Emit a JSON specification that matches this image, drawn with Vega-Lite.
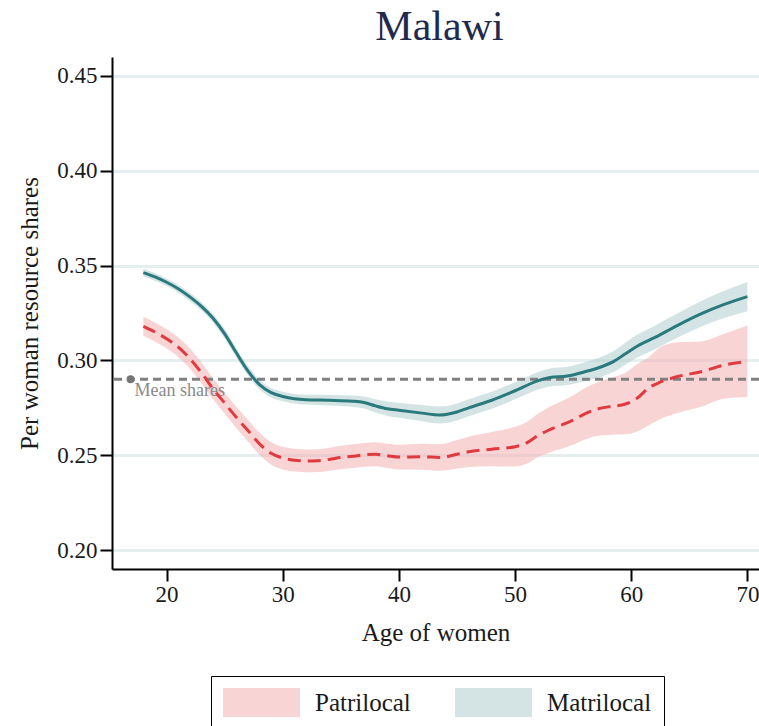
{
  "$schema": "https://vega.github.io/schema/vega-lite/v6.json",
  "autosize": {"type": "none"},
  "padding": {"left": 112, "top": 57, "right": 0, "bottom": 157},
  "width": 647,
  "height": 512,
  "background": "white",
  "title": {"text": "Malawi", "font": "Liberation Serif", "fontSize": 42, "fontWeight": "normal", "color": "#1e2b4e", "anchor": "middle", "offset": 8, "dx": 4},
  "config": {
    "view": {"stroke": null},
    "font": "Liberation Serif",
    "axis": {"labelFont": "Liberation Serif", "titleFont": "Liberation Serif", "labelColor": "#1a1a1a", "titleColor": "#1a1a1a", "titleFontWeight": "normal", "domainColor": "#000000", "tickColor": "#000000", "domainWidth": 2, "tickWidth": 2, "tickSize": 12}
  },
  "datasets": {
    "bands": [
      {"age": 18, "group": "Matrilocal", "mean": 0.3463, "lo": 0.3443, "hi": 0.3483},
      {"age": 19, "group": "Matrilocal", "mean": 0.3440, "lo": 0.3420, "hi": 0.3460},
      {"age": 20, "group": "Matrilocal", "mean": 0.3412, "lo": 0.3392, "hi": 0.3432},
      {"age": 21, "group": "Matrilocal", "mean": 0.3378, "lo": 0.3358, "hi": 0.3398},
      {"age": 22, "group": "Matrilocal", "mean": 0.3335, "lo": 0.3313, "hi": 0.3357},
      {"age": 23, "group": "Matrilocal", "mean": 0.3285, "lo": 0.3263, "hi": 0.3307},
      {"age": 24, "group": "Matrilocal", "mean": 0.3222, "lo": 0.3199, "hi": 0.3245},
      {"age": 25, "group": "Matrilocal", "mean": 0.3140, "lo": 0.3115, "hi": 0.3165},
      {"age": 26, "group": "Matrilocal", "mean": 0.3040, "lo": 0.3015, "hi": 0.3065},
      {"age": 27, "group": "Matrilocal", "mean": 0.2945, "lo": 0.2920, "hi": 0.2970},
      {"age": 28, "group": "Matrilocal", "mean": 0.2872, "lo": 0.2847, "hi": 0.2897},
      {"age": 29, "group": "Matrilocal", "mean": 0.2830, "lo": 0.2805, "hi": 0.2855},
      {"age": 30, "group": "Matrilocal", "mean": 0.2810, "lo": 0.2785, "hi": 0.2835},
      {"age": 31, "group": "Matrilocal", "mean": 0.2798, "lo": 0.2773, "hi": 0.2823},
      {"age": 32, "group": "Matrilocal", "mean": 0.2793, "lo": 0.2767, "hi": 0.2819},
      {"age": 34, "group": "Matrilocal", "mean": 0.2790, "lo": 0.2762, "hi": 0.2818},
      {"age": 36, "group": "Matrilocal", "mean": 0.2785, "lo": 0.2755, "hi": 0.2815},
      {"age": 37, "group": "Matrilocal", "mean": 0.2778, "lo": 0.2746, "hi": 0.2810},
      {"age": 38, "group": "Matrilocal", "mean": 0.2760, "lo": 0.2725, "hi": 0.2795},
      {"age": 39, "group": "Matrilocal", "mean": 0.2745, "lo": 0.2707, "hi": 0.2783},
      {"age": 40, "group": "Matrilocal", "mean": 0.2737, "lo": 0.2697, "hi": 0.2777},
      {"age": 42, "group": "Matrilocal", "mean": 0.2722, "lo": 0.2679, "hi": 0.2765},
      {"age": 43.5, "group": "Matrilocal", "mean": 0.2712, "lo": 0.2667, "hi": 0.2757},
      {"age": 45, "group": "Matrilocal", "mean": 0.2728, "lo": 0.2683, "hi": 0.2773},
      {"age": 46, "group": "Matrilocal", "mean": 0.2750, "lo": 0.2705, "hi": 0.2795},
      {"age": 48, "group": "Matrilocal", "mean": 0.2790, "lo": 0.2745, "hi": 0.2835},
      {"age": 50, "group": "Matrilocal", "mean": 0.2840, "lo": 0.2795, "hi": 0.2885},
      {"age": 52, "group": "Matrilocal", "mean": 0.2893, "lo": 0.2847, "hi": 0.2939},
      {"age": 53, "group": "Matrilocal", "mean": 0.2910, "lo": 0.2863, "hi": 0.2957},
      {"age": 54.5, "group": "Matrilocal", "mean": 0.2918, "lo": 0.2870, "hi": 0.2966},
      {"age": 56, "group": "Matrilocal", "mean": 0.2940, "lo": 0.2890, "hi": 0.2990},
      {"age": 57.5, "group": "Matrilocal", "mean": 0.2968, "lo": 0.2915, "hi": 0.3021},
      {"age": 58.5, "group": "Matrilocal", "mean": 0.2995, "lo": 0.2940, "hi": 0.3050},
      {"age": 59.5, "group": "Matrilocal", "mean": 0.3035, "lo": 0.2977, "hi": 0.3093},
      {"age": 60.5, "group": "Matrilocal", "mean": 0.3075, "lo": 0.3015, "hi": 0.3135},
      {"age": 62, "group": "Matrilocal", "mean": 0.3120, "lo": 0.3058, "hi": 0.3182},
      {"age": 64, "group": "Matrilocal", "mean": 0.3185, "lo": 0.3121, "hi": 0.3249},
      {"age": 66, "group": "Matrilocal", "mean": 0.3245, "lo": 0.3178, "hi": 0.3312},
      {"age": 68, "group": "Matrilocal", "mean": 0.3295, "lo": 0.3223, "hi": 0.3367},
      {"age": 70, "group": "Matrilocal", "mean": 0.3336, "lo": 0.3259, "hi": 0.3413},
      {"age": 18, "group": "Patrilocal", "mean": 0.3180, "lo": 0.3130, "hi": 0.3230},
      {"age": 19, "group": "Patrilocal", "mean": 0.3150, "lo": 0.3100, "hi": 0.3200},
      {"age": 20, "group": "Patrilocal", "mean": 0.3114, "lo": 0.3064, "hi": 0.3164},
      {"age": 21, "group": "Patrilocal", "mean": 0.3070, "lo": 0.3018, "hi": 0.3122},
      {"age": 22, "group": "Patrilocal", "mean": 0.3010, "lo": 0.2957, "hi": 0.3063},
      {"age": 23, "group": "Patrilocal", "mean": 0.2935, "lo": 0.2881, "hi": 0.2989},
      {"age": 24, "group": "Patrilocal", "mean": 0.2850, "lo": 0.2795, "hi": 0.2905},
      {"age": 25, "group": "Patrilocal", "mean": 0.2775, "lo": 0.2720, "hi": 0.2830},
      {"age": 26, "group": "Patrilocal", "mean": 0.2700, "lo": 0.2644, "hi": 0.2756},
      {"age": 27, "group": "Patrilocal", "mean": 0.2630, "lo": 0.2573, "hi": 0.2687},
      {"age": 28, "group": "Patrilocal", "mean": 0.2560, "lo": 0.2502, "hi": 0.2618},
      {"age": 29, "group": "Patrilocal", "mean": 0.2510, "lo": 0.2451, "hi": 0.2569},
      {"age": 30, "group": "Patrilocal", "mean": 0.2485, "lo": 0.2425, "hi": 0.2545},
      {"age": 31, "group": "Patrilocal", "mean": 0.2474, "lo": 0.2414, "hi": 0.2534},
      {"age": 32, "group": "Patrilocal", "mean": 0.2470, "lo": 0.2410, "hi": 0.2530},
      {"age": 33, "group": "Patrilocal", "mean": 0.2471, "lo": 0.2411, "hi": 0.2531},
      {"age": 34, "group": "Patrilocal", "mean": 0.2478, "lo": 0.2417, "hi": 0.2539},
      {"age": 35, "group": "Patrilocal", "mean": 0.2488, "lo": 0.2426, "hi": 0.2550},
      {"age": 36, "group": "Patrilocal", "mean": 0.2494, "lo": 0.2432, "hi": 0.2556},
      {"age": 37, "group": "Patrilocal", "mean": 0.2502, "lo": 0.2439, "hi": 0.2565},
      {"age": 38, "group": "Patrilocal", "mean": 0.2505, "lo": 0.2442, "hi": 0.2568},
      {"age": 39, "group": "Patrilocal", "mean": 0.2497, "lo": 0.2433, "hi": 0.2561},
      {"age": 40, "group": "Patrilocal", "mean": 0.2490, "lo": 0.2425, "hi": 0.2555},
      {"age": 42, "group": "Patrilocal", "mean": 0.2492, "lo": 0.2424, "hi": 0.2560},
      {"age": 43.5, "group": "Patrilocal", "mean": 0.2488, "lo": 0.2418, "hi": 0.2558},
      {"age": 45, "group": "Patrilocal", "mean": 0.2505, "lo": 0.2430, "hi": 0.2580},
      {"age": 46, "group": "Patrilocal", "mean": 0.2518, "lo": 0.2438, "hi": 0.2598},
      {"age": 48, "group": "Patrilocal", "mean": 0.2532, "lo": 0.2442, "hi": 0.2622},
      {"age": 50, "group": "Patrilocal", "mean": 0.2545, "lo": 0.2440, "hi": 0.2650},
      {"age": 51, "group": "Patrilocal", "mean": 0.2565, "lo": 0.2455, "hi": 0.2675},
      {"age": 52, "group": "Patrilocal", "mean": 0.2605, "lo": 0.2490, "hi": 0.2720},
      {"age": 53, "group": "Patrilocal", "mean": 0.2635, "lo": 0.2515, "hi": 0.2755},
      {"age": 55, "group": "Patrilocal", "mean": 0.2685, "lo": 0.2555, "hi": 0.2815},
      {"age": 56, "group": "Patrilocal", "mean": 0.2718, "lo": 0.2583, "hi": 0.2853},
      {"age": 57, "group": "Patrilocal", "mean": 0.2742, "lo": 0.2602, "hi": 0.2882},
      {"age": 58, "group": "Patrilocal", "mean": 0.2755, "lo": 0.2607, "hi": 0.2903},
      {"age": 59.5, "group": "Patrilocal", "mean": 0.2770, "lo": 0.2610, "hi": 0.2935},
      {"age": 60.5, "group": "Patrilocal", "mean": 0.2800, "lo": 0.2625, "hi": 0.2980},
      {"age": 61.5, "group": "Patrilocal", "mean": 0.2855, "lo": 0.2658, "hi": 0.3017},
      {"age": 62.5, "group": "Patrilocal", "mean": 0.2885, "lo": 0.2690, "hi": 0.3070},
      {"age": 64, "group": "Patrilocal", "mean": 0.2915, "lo": 0.2722, "hi": 0.3096},
      {"age": 66, "group": "Patrilocal", "mean": 0.2940, "lo": 0.2755, "hi": 0.3100},
      {"age": 68, "group": "Patrilocal", "mean": 0.2975, "lo": 0.2798, "hi": 0.3140},
      {"age": 70, "group": "Patrilocal", "mean": 0.2995, "lo": 0.2807, "hi": 0.3184}
    ],
    "meanShare": [{"age": 16.9, "share": 0.29, "label": "Mean shares"}]
  },
  "layer": [
    {
      "data": {"name": "bands"},
      "mark": {"type": "area", "opacity": 0.5, "interpolate": "monotone"},
      "encoding": {
        "x": {"field": "age", "type": "quantitative", "scale": {"domain": [15.3, 71], "nice": false, "zero": false},
              "axis": {"values": [20, 30, 40, 50, 60, 70], "title": "Age of women", "titleFontSize": 25, "labelFontSize": 23, "labelPadding": 2, "titlePadding": 14, "grid": false}},
        "y": {"field": "lo", "type": "quantitative", "scale": {"domain": [0.19, 0.46], "nice": false, "zero": false},
              "axis": {"values": [0.2, 0.25, 0.3, 0.35, 0.4, 0.45], "format": ".2f", "title": "Per woman resource shares", "titleFontSize": 25, "labelFontSize": 23, "labelPadding": 3, "titlePadding": 14, "grid": true, "gridColor": "#e6eff0", "gridWidth": 3}},
        "y2": {"field": "hi"},
        "color": {"field": "group", "type": "nominal",
                  "scale": {"domain": ["Patrilocal", "Matrilocal"], "range": ["#f1a9ab", "#a9c9cb"]},
                  "legend": {"title": null, "orient": "none", "legendX": 99, "legendY": 619, "direction": "horizontal",
                             "symbolType": "M-1,-1H4.31V1H-1Z", "symbolSize": 841, "symbolOpacity": 0.5, "symbolStrokeWidth": 0,
                             "labelFont": "Liberation Serif", "labelFontSize": 25, "labelColor": "#1a1a1a", "labelOffset": 63, "labelLimit": 300,
                             "columnPadding": 44, "padding": 12, "strokeColor": "#000000", "fillColor": "#ffffff", "cornerRadius": 0}}
      }
    },
    {
      "data": {"name": "meanShare"},
      "mark": {"type": "rule", "color": "#808080", "strokeWidth": 3, "strokeDash": [8, 5]},
      "encoding": {"y": {"field": "share", "type": "quantitative"}}
    },
    {
      "data": {"name": "meanShare"},
      "mark": {"type": "point", "filled": true, "color": "#777777", "size": 64, "opacity": 1},
      "encoding": {"x": {"field": "age", "type": "quantitative"}, "y": {"field": "share", "type": "quantitative"}}
    },
    {
      "data": {"name": "meanShare"},
      "mark": {"type": "text", "align": "left", "baseline": "alphabetic", "dx": 4, "dy": 17, "font": "Liberation Serif", "fontSize": 18, "color": "#8a8a8a"},
      "encoding": {"x": {"field": "age", "type": "quantitative"}, "y": {"field": "share", "type": "quantitative"}, "text": {"field": "label"}}
    },
    {
      "data": {"name": "bands"},
      "transform": [{"filter": "datum.group === 'Patrilocal'"}],
      "mark": {"type": "line", "color": "#e0393e", "strokeWidth": 3, "strokeDash": [13, 7], "interpolate": "monotone"},
      "encoding": {"x": {"field": "age", "type": "quantitative"}, "y": {"field": "mean", "type": "quantitative"}}
    },
    {
      "data": {"name": "bands"},
      "transform": [{"filter": "datum.group === 'Matrilocal'"}],
      "mark": {"type": "line", "color": "#2a7a7d", "strokeWidth": 3, "interpolate": "monotone"},
      "encoding": {"x": {"field": "age", "type": "quantitative"}, "y": {"field": "mean", "type": "quantitative"}}
    }
  ]
}
